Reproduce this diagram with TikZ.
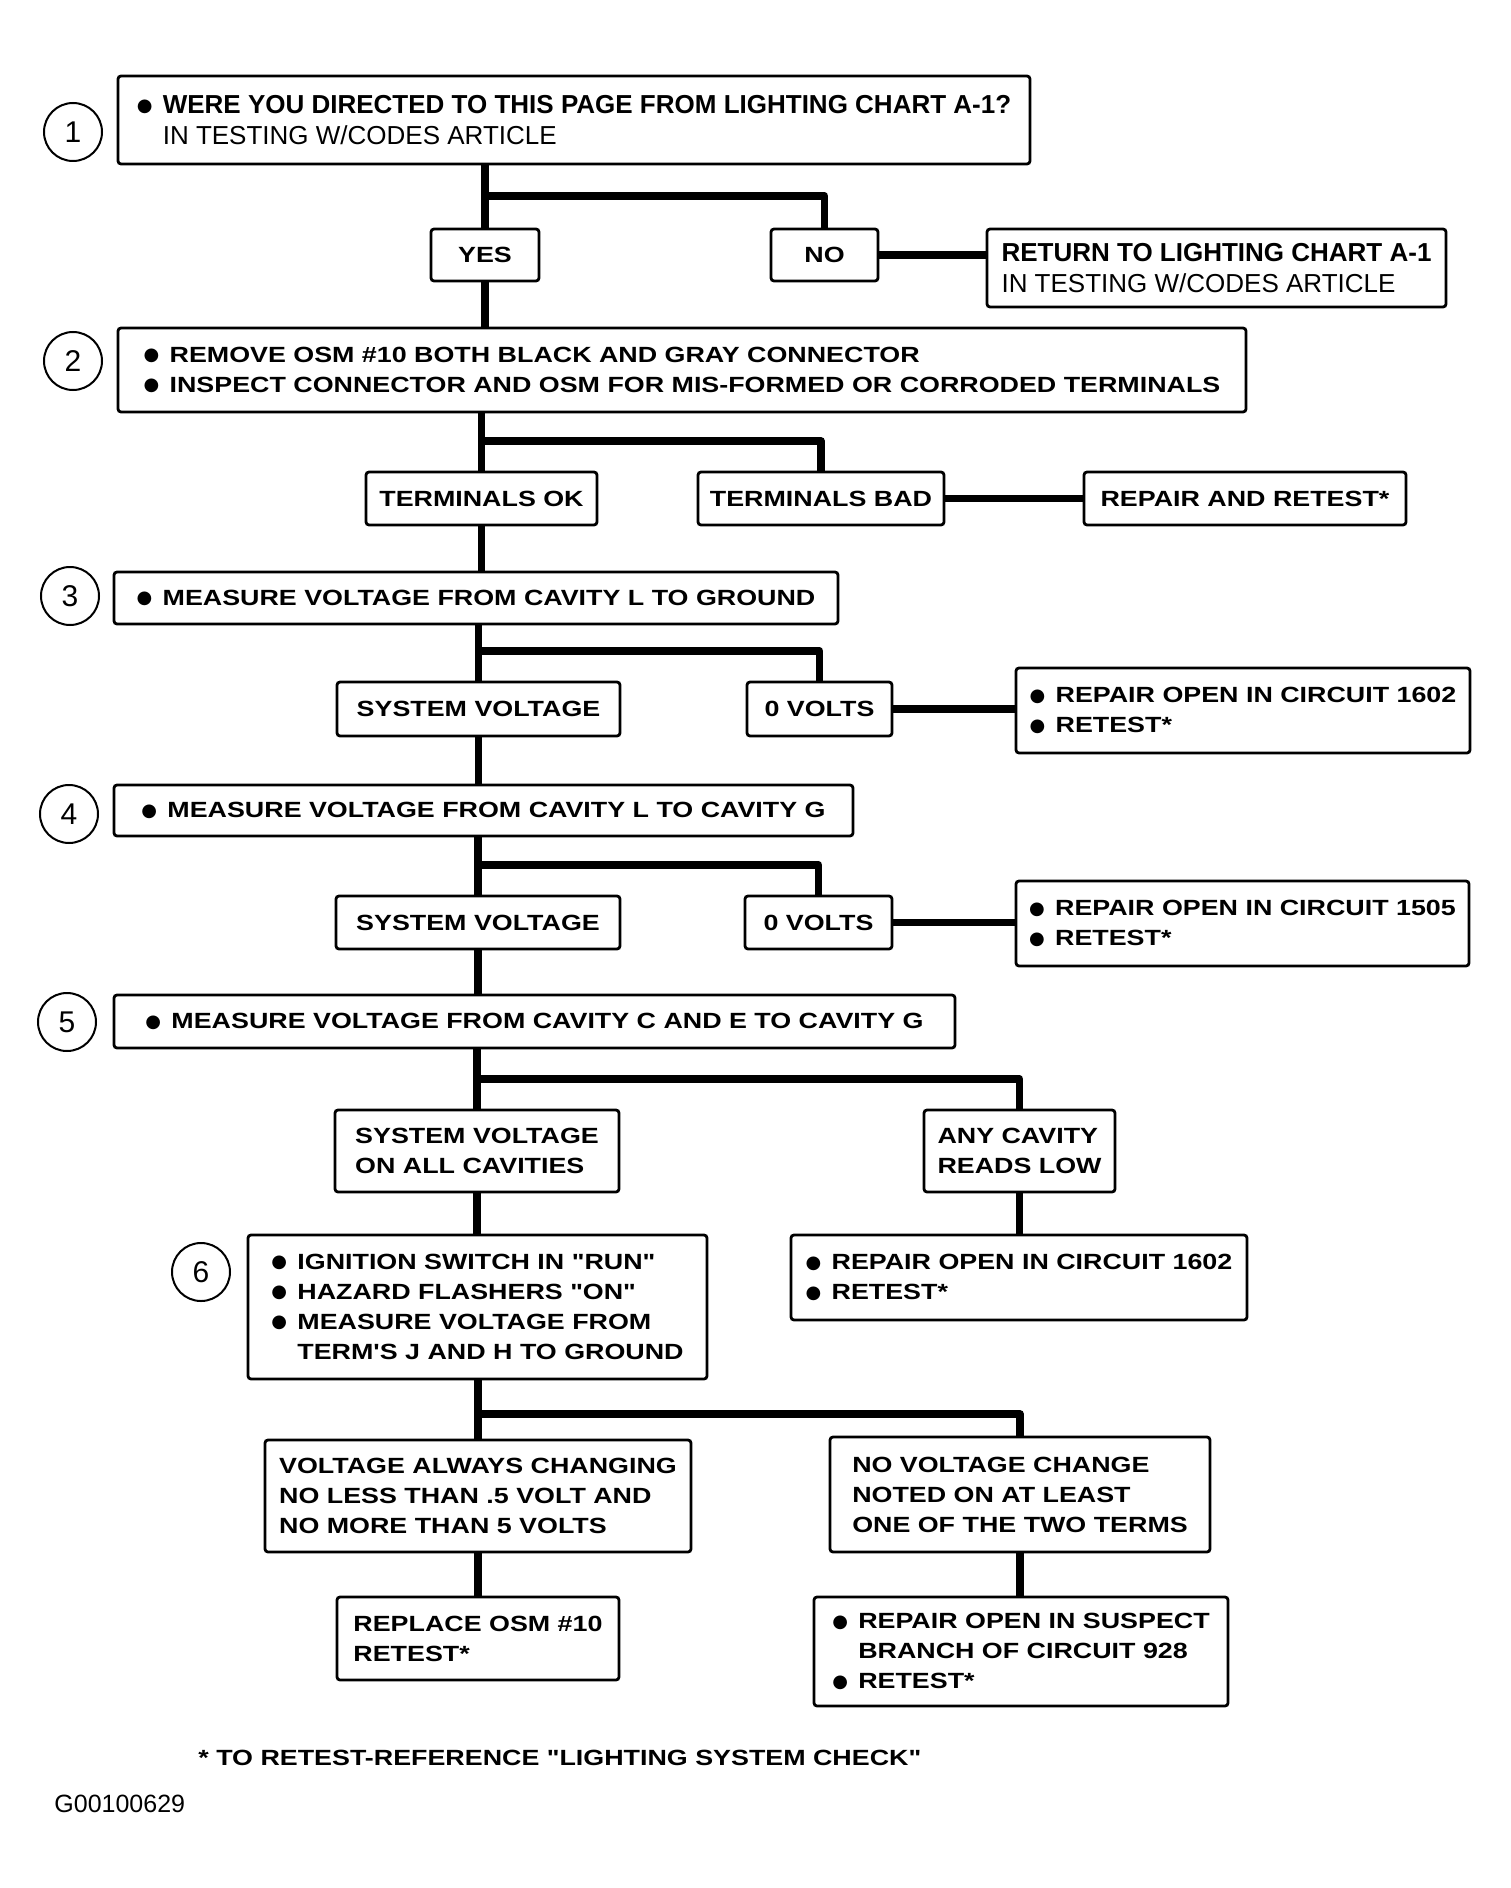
\documentclass[tikz,border=0pt]{standalone}
\usepackage{fontspec}
\usepackage{graphicx}
\setmainfont{Liberation Sans}
\newfontfamily\oldfont[FakeStretch=1.22]{Liberation Sans}
\newfontfamily\dotfont{DejaVu Sans}
\usetikzlibrary{positioning}
\newcommand{\bul}{\makebox[13pt][l]{\raisebox{0.8pt}{\dotfont\fontsize{9}{9}\selectfont ●}}}

\begin{document}
\begin{tikzpicture}[x=0.5pt,y=-0.5pt,
  box/.style={draw,line width=1.4pt,rounded corners=1.5pt,align=left,inner sep=0pt,
    font=\oldfont\bfseries\fontsize{11}{15}\selectfont},
  topbox/.style={box,font=\fontsize{13}{15.5}\selectfont},
  num/.style={draw,circle,line width=1pt,minimum size=29pt,inner sep=0pt,
    font=\fontsize{15}{15}\selectfont},
  link/.style={line width=3.8pt,line join=round}]
\useasboundingbox (0,0) rectangle (1510,1888);

%les cases
\node[topbox,minimum width=456pt,minimum height=44pt] (q1) at (574,120)
  {{\bfseries\bul WERE YOU DIRECTED TO THIS PAGE FROM LIGHTING CHART A-1?}\\\hspace*{13pt}IN TESTING W/CODES ARTICLE};
\node[box,minimum width=54pt,minimum height=26pt] (yes) at (485,255) {YES};
\node[box,minimum width=53.5pt,minimum height=26pt] (no) at (824.5,255) {NO};
\node[topbox,minimum width=229.5pt,minimum height=39pt] (ret) at (1216.5,268)
  {{\bfseries RETURN TO LIGHTING CHART A-1}\\IN TESTING W/CODES ARTICLE};

\node[box,minimum width=564pt,minimum height=42pt] (q2) at (682,370)
  {\bul REMOVE OSM \#10 BOTH BLACK AND GRAY CONNECTOR\\\bul INSPECT CONNECTOR AND OSM FOR MIS-FORMED OR CORRODED TERMINALS};
\node[box,minimum width=115.5pt,minimum height=26.5pt] (tok) at (481.5,498.5) {TERMINALS OK};
\node[box,minimum width=123pt,minimum height=26.5pt] (tbad) at (821,498.5) {TERMINALS BAD};
\node[box,minimum width=161pt,minimum height=26.5pt] (rep) at (1245,498.5) {REPAIR AND RETEST*};

\node[box,minimum width=362pt,minimum height=26pt] (q3) at (476,598)
  {\bul MEASURE VOLTAGE FROM CAVITY L TO GROUND};
\node[box,minimum width=141.5pt,minimum height=27pt] (sv3) at (478.5,709) {SYSTEM VOLTAGE};
\node[box,minimum width=72.5pt,minimum height=27pt] (zv3) at (819.5,709) {0 VOLTS};
\node[box,minimum width=227pt,minimum height=42.5pt] (r1602a) at (1243,710.5)
  {\bul REPAIR OPEN IN CIRCUIT 1602\\\bul RETEST*};

\node[box,minimum width=369.5pt,minimum height=25.5pt] (q4) at (483.5,810.5)
  {\bul MEASURE VOLTAGE FROM CAVITY L TO CAVITY G};
\node[box,minimum width=142pt,minimum height=26.5pt] (sv4) at (478,922.5) {SYSTEM VOLTAGE};
\node[box,minimum width=73.5pt,minimum height=26.5pt] (zv4) at (818.5,922.5) {0 VOLTS};
\node[box,minimum width=226.5pt,minimum height=42.5pt] (r1505) at (1242.5,923.5)
  {\bul REPAIR OPEN IN CIRCUIT 1505\\\bul RETEST*};

\node[box,minimum width=420.5pt,minimum height=26.5pt] (q5) at (534.5,1021.5)
  {\bul MEASURE VOLTAGE FROM CAVITY C AND E TO CAVITY G};
\node[box,minimum width=142pt,minimum height=41pt] (svall) at (477,1151)
  {SYSTEM VOLTAGE\\ON ALL CAVITIES};
\node[box,minimum width=95.5pt,minimum height=41pt] (low) at (1019.5,1151)
  {ANY CAVITY\\READS LOW};

\node[box,minimum width=229.5pt,minimum height=72pt] (q6) at (477.5,1307)
  {\bul IGNITION SWITCH IN "RUN"\\\bul HAZARD FLASHERS "ON"\\\bul MEASURE VOLTAGE FROM\\\hspace*{13pt}TERM'S J AND H TO GROUND};
\node[box,minimum width=228pt,minimum height=42.5pt] (r1602b) at (1019,1277.5)
  {\bul REPAIR OPEN IN CIRCUIT 1602\\\bul RETEST*};

\node[box,minimum width=213pt,minimum height=56pt] (chg) at (478,1496)
  {VOLTAGE ALWAYS CHANGING\\NO LESS THAN .5 VOLT AND\\NO MORE THAN 5 VOLTS};
\node[box,minimum width=190pt,minimum height=57.5pt] (nochg) at (1020,1494.5)
  {NO VOLTAGE CHANGE\\NOTED ON AT LEAST\\ONE OF THE TWO TERMS};
\node[box,minimum width=141pt,minimum height=41.5pt] (repl) at (478,1638.5)
  {REPLACE OSM \#10\\RETEST*};
\node[box,minimum width=207pt,minimum height=54.5pt] (r928) at (1021,1651.5)
  {\bul REPAIR OPEN IN SUSPECT\\\hspace*{13pt}BRANCH OF CIRCUIT 928\\\bul RETEST*};

%les numeros
\node[num] (c1) at (73,132) {1};
\node[num] (c2) at (73,361) {2};
\node[num] (c3) at (70,596) {3};
\node[num] (c4) at (69,814) {4};
\node[num] (c5) at (67,1022) {5};
\node[num] (c6) at (201,1272) {6};

%les branches
\coordinate (b1) at (0,196);
\coordinate (b2) at (0,441);
\coordinate (b3) at (0,651);
\coordinate (b4) at (0,865);
\coordinate (b5) at (0,1079);
\coordinate (b6) at (0,1414);

\draw[link] (q1.south -| yes.north) -- (yes.north);
\draw[link] (yes.north |- b1) -| (no.north);
\draw[link] (no.east) -- (no.east -| ret.west);
\draw[link] (yes.south) -- (yes.south |- q2.north);

\draw[link] (q2.south -| tok.north) -- (tok.north);
\draw[link] (tok.north |- b2) -| (tbad.north);
\draw[link] (tbad.east) -- (rep.west);
\draw[link] (tok.south) -- (tok.south |- q3.north);

\draw[link] (q3.south -| sv3.north) -- (sv3.north);
\draw[link] (sv3.north |- b3) -| (zv3.north);
\draw[link] (zv3.east) -- (zv3.east -| r1602a.west);
\draw[link] (sv3.south) -- (sv3.south |- q4.north);

\draw[link] (q4.south -| sv4.north) -- (sv4.north);
\draw[link] (sv4.north |- b4) -| (zv4.north);
\draw[link] (zv4.east) -- (zv4.east -| r1505.west);
\draw[link] (sv4.south) -- (sv4.south |- q5.north);

\draw[link] (q5.south -| svall.north) -- (svall.north);
\draw[link] (svall.north |- b5) -| (low.north);
\draw[link] (svall.south) -- (svall.south |- q6.north);
\draw[link] (low.south) -- (low.south |- r1602b.north);

\draw[link] (q6.south -| chg.north) -- (chg.north);
\draw[link] (chg.north |- b6) -| (nochg.north);
\draw[link] (chg.south) -- (chg.south |- repl.north);
\draw[link] (nochg.south) -- (nochg.south |- r928.north);

%la note
\node[anchor=west,inner sep=0pt,font=\oldfont\bfseries\fontsize{11}{15}\selectfont] (foot) at (198,1758)
  {* TO RETEST-REFERENCE "LIGHTING SYSTEM CHECK"};
\node[anchor=west,inner sep=0pt,font=\fontsize{12.5}{15}\selectfont] (code) at (54,1804) {G00100629};
\end{tikzpicture}
\end{document}
